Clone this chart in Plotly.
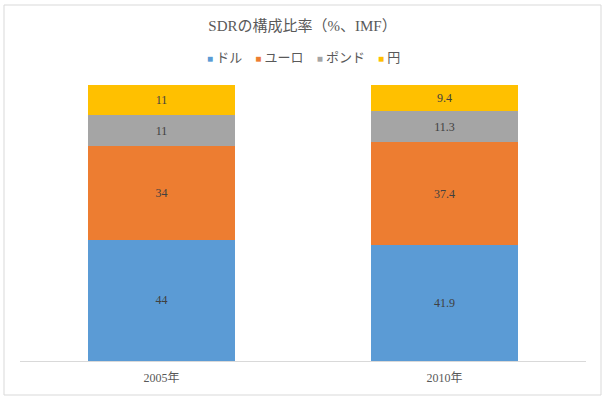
import plotly.graph_objects as go

years = ["2005年", "2010年"]
series_names = ["ドル", "ユーロ", "ポンド", "円"]
dollar = [44, 41.9]
euro = [34, 37.4]
pound = [11, 11.3]
yen = [11, 9.4]
colors = ["#5B9BD5", "#ED7D31", "#A5A5A5", "#FFC000"]

W, H = 605, 399
L, R, T, B = 20, 19, 85, 38
pw, ph = W - L - R, H - T - B

FONT = "Liberation Serif, Noto Sans CJK JP, serif"

fig = go.Figure()
for name, vals, c in zip(series_names, [dollar, euro, pound, yen], colors):
    fig.add_trace(go.Bar(
        x=years, y=vals, name=name, marker=dict(color=c, line=dict(width=0)),
        text=[str(v) for v in vals], textposition="inside", insidetextanchor="middle",
        textfont=dict(family=FONT, size=12, color="#404040"),
        hoverinfo="skip", showlegend=False,
    ))

def px_x(p):
    return (p - L) / pw

def px_y(p):
    return (H - B - p) / ph

legend_html = "&nbsp;&nbsp;&nbsp;&nbsp;".join(
    f"<span style='color:{c};font-size:10px'>■</span>&nbsp;{n}"
    for n, c in zip(series_names, colors)
)

fig.update_layout(
    width=W, height=H,
    barmode="stack", bargap=0.484,
    margin=dict(l=L, r=R, t=T, b=B),
    paper_bgcolor="white", plot_bgcolor="white",
    showlegend=False,
    title=dict(text="SDRの構成比率（%、IMF）", x=0.5, xanchor="center",
               y=1 - 26 / H, yanchor="middle",
               font=dict(family=FONT, size=15, color="#595959")),
    annotations=[dict(text=legend_html, xref="paper", yref="paper",
                      x=0.5, y=px_y(57), xanchor="center", yanchor="middle",
                      showarrow=False,
                      font=dict(family=FONT, size=13, color="#595959"))],
    xaxis=dict(showline=True, linecolor="#D9D9D9", linewidth=1, ticks="",
               ticklabelstandoff=6,
               tickfont=dict(family=FONT, size=12, color="#595959"), showgrid=False),
    yaxis=dict(range=[0, 100], visible=False, showgrid=False),
    uniformtext=dict(minsize=8, mode="show"),
    shapes=[dict(type="rect", xref="paper", yref="paper",
                 x0=px_x(4), x1=px_x(601), y0=px_y(395), y1=px_y(5),
                 line=dict(color="#D9D9D9", width=1), layer="below")],
)

fig.write_html("out.html", config={"displayModeBar": False},
               post_script="document.body.style.margin='0';document.body.style.overflow='hidden';")
